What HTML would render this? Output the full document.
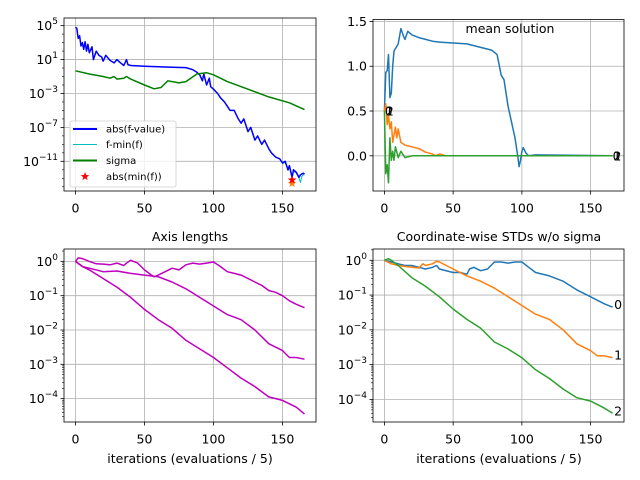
<!DOCTYPE html>
<html><head><meta charset="utf-8"><style>
html,body{margin:0;padding:0;background:#fff;}
svg{display:block;font-family:"DejaVu Sans","Liberation Sans",sans-serif;}
</style></head><body>
<svg id="fig" width="640" height="480" viewBox="0 0 640 480" xmlns="http://www.w3.org/2000/svg"></svg>
<script>
// ---- data: top-left (log10 values) ----
const fX = [0,1,2,3,4,5,6,7,8,9,10,12,13,15,17,19,20,22,25,28,30,32,35,37,38,40,50,60,70,80,85,88,90,92,93,95,97,98,100,103,105,108,110,112,115,118,120,122,125,127,130,132,135,137,140,142,145,148,150,152,154,155,157,158,160,162,163,165,166];
const fVal = [4.8,4.7,3.5,3.8,2.6,3.0,2.2,3.1,2.0,2.8,1.8,2.5,1.0,2.0,1.5,1.3,0.8,1.5,0.9,0.6,1.0,0.7,0.3,1.0,0.4,0.3,0.2,0.15,0.1,0.05,-0.2,-0.5,-0.8,-1.5,-0.7,-2.0,-1.2,-2.2,-2.5,-3.0,-3.5,-4.0,-4.5,-5.0,-5.0,-6.0,-6.5,-6.0,-7.5,-7.0,-8.5,-8.0,-9.0,-8.5,-9.5,-10.0,-10.5,-10.7,-11.2,-11.0,-12.0,-11.5,-12.9,-12.0,-12.3,-12.9,-12.6,-12.4,-12.5];
const fminX = [150,152,154,155,157,158,160,162,163,164,165,166];
const fminVal = [-11.3,-11.1,-12.1,-11.6,-13.0,-12.1,-12.4,-13.0,-13.5,-12.8,-12.6,-12.6];
const sigX = [0,10,20,25,28,30,35,37,40,50,57,62,67,75,80,88,95,100,110,125,140,155,166];
const sigVal = [-0.33,-0.7,-1.0,-1.2,-1.0,-1.3,-1.2,-1.0,-1.3,-2.0,-2.45,-2.3,-1.5,-1.75,-1.6,-0.7,-0.55,-0.8,-1.6,-2.5,-3.4,-4.1,-4.9];
const starX = [157];
const starRed = [-13.2];
const starOrange = [-13.6];
// ---- data: mean solution ----
const m0X = [0,1,2,3,4,5,6,7,10,12,14,15,17,20,25,30,35,40,50,60,70,78,82,85,87,90,95,97,98,99,100,101,103,105,110,166];
const m0 = [0.5,0.93,0.95,1.13,0.65,0.7,1.0,1.17,1.25,1.42,1.33,1.3,1.39,1.35,1.32,1.3,1.28,1.27,1.26,1.25,1.21,1.18,1.13,0.9,0.85,0.55,0.2,0.0,-0.12,-0.05,0.05,0.09,0.03,0.0,0.01,0.0];
const m1X = [0,1,2,3,4,5,6,8,9,10,12,15,20,25,30,35,37,40,45,166];
const m1 = [0.5,0.58,0.35,0.45,0.3,0.38,0.15,0.32,0.2,0.3,0.15,0.12,0.1,0.08,0.04,0.02,0.0,0.02,0.0,0.0];
const m2X = [0,1,2,3,4,5,6,7,8,10,12,15,20,166];
const m2 = [0.5,-0.2,-0.1,-0.3,0.2,-0.05,0.05,-0.05,0.1,-0.02,0.05,-0.02,0.0,0.0];
// ---- data: axis lengths (log10) ----
const aAX = [0,2,5,10,15,20,25,30,35,37,40,45,50,55,57,60,65,70,75,80,85,90,95,100,105,110,115,120,125,130,135,140,145,150,155,160,166];
const aA = [0,0.1,0.08,0,-0.07,-0.08,-0.1,-0.05,-0.12,-0.05,0.03,-0.05,-0.25,-0.4,-0.45,-0.4,-0.3,-0.2,-0.25,-0.1,-0.05,-0.08,-0.05,-0.02,-0.15,-0.3,-0.35,-0.4,-0.5,-0.6,-0.7,-0.85,-0.9,-1.0,-1.15,-1.25,-1.35];
const aBX = [0,5,10,20,30,40,50,60,70,80,90,100,110,120,130,140,150,155,160,166];
const aB = [0,-0.15,-0.2,-0.3,-0.28,-0.35,-0.4,-0.45,-0.6,-0.8,-1.05,-1.3,-1.55,-1.7,-2.0,-2.4,-2.6,-2.8,-2.8,-2.85];
const aCX = [0,5,10,20,30,40,50,60,70,80,90,100,110,120,130,140,150,160,166];
const aC = [0,-0.15,-0.25,-0.5,-0.75,-1.05,-1.4,-1.7,-1.95,-2.3,-2.55,-2.8,-3.1,-3.4,-3.65,-3.95,-4.05,-4.25,-4.45];
// ---- data: coordinate-wise stds (log10) ----
const s0X = [0,5,10,15,20,25,30,35,38,40,50,55,60,62,65,70,75,80,85,90,95,100,105,110,120,130,140,150,160,166];
const s0 = [0,-0.05,-0.1,-0.15,-0.15,-0.2,-0.25,-0.2,-0.15,-0.25,-0.35,-0.35,-0.4,-0.25,-0.2,-0.3,-0.25,-0.05,-0.05,-0.08,-0.05,-0.05,-0.2,-0.35,-0.45,-0.6,-0.85,-1.05,-1.25,-1.35];
const s1X = [0,5,10,20,25,28,30,35,38,40,50,55,60,70,80,90,100,110,120,130,140,150,155,160,166];
const s1 = [0,-0.1,-0.15,-0.2,-0.22,-0.1,-0.15,-0.1,-0.03,-0.05,-0.25,-0.35,-0.45,-0.6,-0.8,-1.05,-1.3,-1.55,-1.7,-2.0,-2.4,-2.6,-2.75,-2.75,-2.8];
const s2X = [0,3,5,10,20,30,40,50,60,70,80,90,100,110,120,130,140,150,160,166];
const s2 = [0,0.05,0,-0.15,-0.5,-0.75,-1.05,-1.4,-1.7,-1.95,-2.35,-2.55,-2.8,-3.15,-3.4,-3.7,-3.95,-4.05,-4.25,-4.4];
const xTicks = [0,50,100,150];

const NS = "http://www.w3.org/2000/svg";
const svg = document.getElementById('fig');
function mk(tag, attrs, parent){const e=document.createElementNS(NS,tag);for(const k in attrs)e.setAttribute(k,attrs[k]);(parent||svg).appendChild(e);return e;}

function makeAxes(name, L, R, T, B, xmin, xmax, ymin, ymax){
  const g = mk('g',{});
  
  
  const sx = v => L + (v - xmin) / (xmax - xmin) * (R - L);
  const sy = v => B - (v - ymin) / (ymax - ymin) * (B - T);
  return {g, sx, sy, L, R, T, B};
}
function grid(ax, xs, ys){
  xs.forEach(v=>{const l=mk('line',{x1:ax.sx(v),x2:ax.sx(v),y1:ax.T,y2:ax.B,stroke:'#b0b0b0','stroke-width':0.8},ax.g);
    
    });
  ys.forEach(v=>{const l=mk('line',{x1:ax.L,x2:ax.R,y1:ax.sy(v),y2:ax.sy(v),stroke:'#b0b0b0','stroke-width':0.8},ax.g);
    
    });
}
function line(ax, xs, ys, color, w, name){
  const d = xs.map((x,i)=>(i?'L':'M')+ax.sx(x).toFixed(1)+','+ax.sy(ys[i]).toFixed(1)).join('');
  const p = mk('path',{d, fill:'none', stroke:color, 'stroke-width':w, 'stroke-linejoin':'round'},ax.g);
  
  
  return p;
}
function frame(ax){
  const r = mk('rect',{x:ax.L,y:ax.T,width:ax.R-ax.L,height:ax.B-ax.T,fill:'none',stroke:'#000','stroke-width':0.8},ax.g);
  
  
}
function xAxis(ax, ticks){
  ticks.forEach(v=>{
    const x=ax.sx(v);
    mk('line',{x1:x,x2:x,y1:ax.B,y2:ax.B+3.5,stroke:'#000','stroke-width':0.8},ax.g);
    const t=mk('text',{x:x,y:ax.B+21.5,'text-anchor':'middle','font-size':12.5,fill:'#000'},ax.g);
    t.textContent=String(v);
    
    
  });
}
function yAxisLin(ax, ticks, labels){
  ticks.forEach((v,i)=>{
    const y=ax.sy(v);
    mk('line',{x1:ax.L-3.5,x2:ax.L,y1:y,y2:y,stroke:'#000','stroke-width':0.8},ax.g);
    const t=mk('text',{x:ax.L-6,y:y+4.5,'text-anchor':'end','font-size':12.5,fill:'#000'},ax.g);
    t.textContent=labels[i];
    
    
  });
}
function yAxisLog(ax, ticks, minors){
  minors.forEach(v=>{const y=ax.sy(v);mk('line',{x1:ax.L-2,x2:ax.L,y1:y,y2:y,stroke:'#000','stroke-width':0.6},ax.g);});
  ticks.forEach(v=>{
    const y=ax.sy(v);
    mk('line',{x1:ax.L-3.5,x2:ax.L,y1:y,y2:y,stroke:'#000','stroke-width':0.8},ax.g);
    const t=mk('text',{x:ax.L-6,y:y+4.5,'text-anchor':'end','font-size':12.5,fill:'#000'},ax.g);
    
    
    const a=mk('tspan',{},t); a.textContent='10';
    const b=mk('tspan',{dy:-6,'font-size':9},t); b.textContent=(v<0?'\u2212':'')+Math.abs(v);
  });
}
function text(x,y,s,size,anchor,name){
  const t=mk('text',{x,y,'font-size':size,'text-anchor':anchor||'middle',fill:'#000'});
  t.textContent=s;
  
  
  return t;
}
function star(ax,x,y,color,name){
  const cx=ax.sx(x), cy=ax.sy(y), R=4.5, r=1.9; let pts=[];
  for(let i=0;i<10;i++){const a=-Math.PI/2+i*Math.PI/5, rr=i%2?r:R; pts.push((cx+rr*Math.cos(a)).toFixed(1)+','+(cy+rr*Math.sin(a)).toFixed(1));}
  const p=mk('polygon',{points:pts.join(' '),fill:color},ax.g);
  
  
}
const XMIN=-8.3, XMAX=174.3;

// ---- top-left ----
{
  const ax = makeAxes('f-value-plot',64,316,18,191,XMIN,XMAX,-14.5,5.9);
  grid(ax, xTicks, [5,1,-3,-7,-11]);
  line(ax, fminX, fminVal, '#00bfbf', 1, 'f-min-line');
  line(ax, fX, fVal, '#0000ff', 1.5, 'abs-f-value-line');
  line(ax, sigX, sigVal, '#008000', 1.5, 'sigma-line');
  star(ax, starX[0], starOrange[0], '#ff7f0e', 'min-f-star-orange');
  star(ax, starX[0], starRed[0], '#ff0000', 'abs-min-f-star');
  frame(ax); xAxis(ax, xTicks);
  let minors=[]; for(let d=-14;d<=5;d++) if([5,1,-3,-7,-11].indexOf(d)<0) minors.push(d);
  yAxisLog(ax,[5,1,-3,-7,-11],minors);
  const lg=mk('g',{},ax.g);
  
  
  mk('rect',{x:70,y:121,width:106,height:66,rx:2,fill:'#fff','fill-opacity':0.8,stroke:'#d0d0d0','stroke-width':0.8},lg);
  const items=[['abs(f-value)','#0000ff',129],['f-min(f)','#00bfbf',144.5],['sigma','#008000',160.5]];
  items.forEach(it=>{
    const e=mk('g',{},lg);
    
    
    mk('line',{x1:73,x2:97,y1:it[2],y2:it[2],stroke:it[1],'stroke-width':it[0]==='f-min(f)'?1:2},e);
    const t=mk('text',{x:106,y:it[2]+3.5,'font-size':10,fill:'#000'},e); t.textContent=it[0];
  });
  const e=mk('g',{},lg);
  
  
  const cx=85,cy=176.5;let pts=[];for(let i=0;i<10;i++){const a=-Math.PI/2+i*Math.PI/5,rr=i%2?1.9:4.5;pts.push((cx+rr*Math.cos(a)).toFixed(1)+','+(cy+rr*Math.sin(a)).toFixed(1));}
  mk('polygon',{points:pts.join(' '),fill:'#ff0000'},e);
  const t=mk('text',{x:106,y:180,'font-size':10,fill:'#000'},e); t.textContent='abs(min(f))';
}
// ---- top-right ----
{
  const ax = makeAxes('mean-solution-plot',373,624,19.5,191,XMIN,XMAX,-0.393,1.522);
  grid(ax, xTicks, [0,0.5,1.0,1.5]);
  line(ax, m0X, m0, '#1f77b4', 1.5, 'x0-mean-line');
  line(ax, m1X, m1, '#ff7f0e', 1.5, 'x1-mean-line');
  line(ax, m2X, m2, '#2ca02c', 1.5, 'x2-mean-line');
  frame(ax); xAxis(ax, xTicks);
  yAxisLin(ax,[0,0.5,1.0,1.5],['0.0','0.5','1.0','1.5']);
  ['0','1','2'].forEach((s,i)=>{
    const a=mk('text',{x:ax.sx(0)+0.5+i*0.6,y:ax.sy(0.5)+4.5,'font-size':12,fill:'#000'},ax.g); a.textContent=s;
    
    
    const b=mk('text',{x:ax.sx(166)+i*0.6,y:ax.sy(0)+4.5,'font-size':12,fill:'#000'},ax.g); b.textContent=s;
    
    
  });
  text(510,33,'mean solution',12.5,'middle','plot-title');
}
// ---- bottom-left ----
{
  const ax = makeAxes('axis-lengths-plot',64,316,249,422,XMIN,XMAX,-4.68,0.36);
  grid(ax, xTicks, [0,-1,-2,-3,-4]);
  line(ax, aAX, aA, '#bf00bf', 1.5, 'axis-length-1');
  line(ax, aBX, aB, '#bf00bf', 1.5, 'axis-length-2');
  line(ax, aCX, aC, '#bf00bf', 1.5, 'axis-length-3');
  frame(ax); xAxis(ax, xTicks);
  let minors=[]; for(let d=-5;d<=0;d++) for(let k=2;k<10;k++){const v=d+Math.log10(k); if(v>-4.68&&v<0.36) minors.push(v);}
  yAxisLog(ax,[0,-1,-2,-3,-4],minors);
  text(190,241,'Axis lengths',12.5,'middle','plot-title');
  text(190,463,'iterations (evaluations / 5)',12.5,'middle','x-axis-title');
}
// ---- bottom-right ----
{
  const ax = makeAxes('coordinate-stds-plot',373,624,249,422,XMIN,XMAX,-4.65,0.325);
  grid(ax, xTicks, [0,-1,-2,-3,-4]);
  line(ax, s0X, s0, '#1f77b4', 1.5, 'std-x0-line');
  line(ax, s1X, s1, '#ff7f0e', 1.5, 'std-x1-line');
  line(ax, s2X, s2, '#2ca02c', 1.5, 'std-x2-line');
  frame(ax); xAxis(ax, xTicks);
  let minors=[]; for(let d=-5;d<=0;d++) for(let k=2;k<10;k++){const v=d+Math.log10(k); if(v>-4.65&&v<0.325) minors.push(v);}
  yAxisLog(ax,[0,-1,-2,-3,-4],minors);
  [[s0,'0'],[s1,'1'],[s2,'2']].forEach(p=>{
    const t=mk('text',{x:ax.sx(166)+1.5,y:ax.sy(p[0][p[0].length-1])+2,'font-size':12.5,fill:'#000'},ax.g); t.textContent=p[1];
    
    
  });
  text(499,241,'Coordinate-wise STDs w/o sigma',12.5,'middle','plot-title');
  text(499,463,'iterations (evaluations / 5)',12.5,'middle','x-axis-title');
}
</script>
</body></html>
